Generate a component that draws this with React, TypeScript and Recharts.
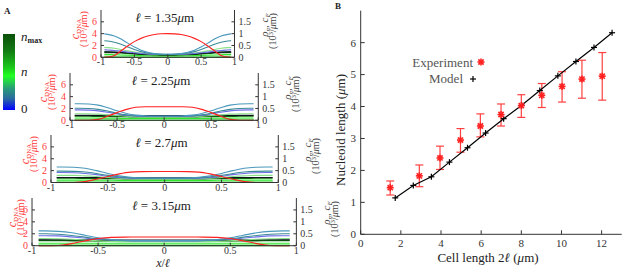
import React from "react";
import {
  LineChart,
  Line,
  ComposedChart,
  Scatter,
  ErrorBar,
  XAxis,
  YAxis,
} from "recharts";

const FONT = "'Liberation Serif', 'DejaVu Serif', serif";
const AXIS = "#333";

// ---- panel A: profiles vs x/ℓ, given from the centre (0) out to the edge, mirrored ----
const X_HALF = [0, 0.1, 0.2, 0.3, 0.4, 0.5, 0.6, 0.7, 0.8, 0.9, 0.95];
const A_X_TICKS = [-1, -0.5, 0, 0.5, 1];
const A_LEFT_TICKS = [0, 2, 4, 6];
const A_RIGHT_TICKS = [0, 0.5, 1, 1.5];

// ℓ = 1.35 µm
const DNA_135 = [4.0, 3.97, 3.85, 3.6, 3.2, 2.65, 1.9, 1.1, 0.3, 0.03, 0];
const TEAL_135 = [0.13, 0.14, 0.16, 0.21, 0.3, 0.44, 0.6, 0.77, 0.9, 0.97, 0.99];
const CYAN_135 = [0.13, 0.13, 0.15, 0.18, 0.24, 0.33, 0.44, 0.55, 0.64, 0.69, 0.7];
const LIGHT_135 = [0.12, 0.12, 0.13, 0.15, 0.18, 0.22, 0.27, 0.33, 0.38, 0.41, 0.42];
const BLUE_135 = [0.12, 0.12, 0.13, 0.14, 0.16, 0.19, 0.22, 0.26, 0.29, 0.31, 0.32];
const BLACK_135 = [0.11, 0.11, 0.12, 0.13, 0.14, 0.16, 0.18, 0.2, 0.22, 0.23, 0.23];
const DKGREEN_135 = [0.1, 0.1, 0.11, 0.12, 0.13, 0.15, 0.17, 0.19, 0.2, 0.21, 0.21];
const GREEN_135 = [0.06, 0.06, 0.06, 0.065, 0.07, 0.08, 0.09, 0.1, 0.11, 0.12, 0.12];
const PALE_135 = [0.03, 0.03, 0.03, 0.03, 0.035, 0.04, 0.045, 0.05, 0.055, 0.06, 0.06];
const BASE_135 = [0.01, 0.01, 0.01, 0.01, 0.01, 0.01, 0.01, 0.01, 0.01, 0.01, 0.01];

// ℓ = 2.25 µm
const DNA_225 = [2.3, 2.3, 2.28, 2.2, 1.85, 1.3, 0.7, 0.15, 0.01, 0, 0];
const TEAL_225 = [0.18, 0.18, 0.19, 0.22, 0.29, 0.4, 0.53, 0.64, 0.69, 0.7, 0.7];
const CYAN_225 = [0.17, 0.17, 0.17, 0.19, 0.23, 0.3, 0.39, 0.46, 0.5, 0.51, 0.51];
const LIGHT_225 = [0.14, 0.14, 0.14, 0.15, 0.17, 0.2, 0.23, 0.26, 0.27, 0.28, 0.28];
const BLUE_225 = [0.16, 0.16, 0.16, 0.18, 0.21, 0.27, 0.34, 0.4, 0.43, 0.44, 0.44];
const BLACK_225 = [0.2, 0.2, 0.2, 0.2, 0.2, 0.2, 0.21, 0.21, 0.21, 0.21, 0.21];
const DKGREEN_225 = [0.15, 0.15, 0.15, 0.15, 0.16, 0.16, 0.17, 0.17, 0.18, 0.18, 0.18];
const GREEN_225 = [0.08, 0.08, 0.08, 0.08, 0.08, 0.085, 0.09, 0.09, 0.1, 0.1, 0.1];
const PALE_225 = [0.04, 0.04, 0.04, 0.04, 0.04, 0.045, 0.05, 0.05, 0.05, 0.05, 0.05];
const BASE_225 = [0.01, 0.01, 0.01, 0.01, 0.01, 0.01, 0.01, 0.01, 0.01, 0.01, 0.01];

// ℓ = 2.7 µm
const DNA_27 = [1.85, 1.85, 1.83, 1.75, 1.45, 1.0, 0.55, 0.15, 0.01, 0, 0];
const TEAL_27 = [0.19, 0.19, 0.2, 0.22, 0.28, 0.38, 0.5, 0.6, 0.64, 0.65, 0.65];
const CYAN_27 = [0.18, 0.18, 0.18, 0.2, 0.24, 0.3, 0.38, 0.44, 0.47, 0.48, 0.48];
const LIGHT_27 = [0.15, 0.15, 0.15, 0.16, 0.18, 0.21, 0.25, 0.28, 0.3, 0.3, 0.3];
const BLUE_27 = [0.17, 0.17, 0.17, 0.18, 0.21, 0.26, 0.33, 0.38, 0.41, 0.42, 0.42];
const BLACK_27 = [0.2, 0.2, 0.2, 0.2, 0.2, 0.2, 0.21, 0.21, 0.21, 0.21, 0.21];
const DKGREEN_27 = [0.16, 0.16, 0.16, 0.16, 0.17, 0.17, 0.18, 0.18, 0.19, 0.19, 0.19];
const GREEN_27 = [0.09, 0.09, 0.09, 0.09, 0.09, 0.095, 0.1, 0.1, 0.1, 0.1, 0.1];
const PALE_27 = [0.05, 0.05, 0.05, 0.05, 0.05, 0.05, 0.05, 0.05, 0.05, 0.05, 0.05];
const BASE_27 = [0.01, 0.01, 0.01, 0.01, 0.01, 0.01, 0.01, 0.01, 0.01, 0.01, 0.01];

// ℓ = 3.15 µm
const DNA_315 = [1.45, 1.45, 1.45, 1.44, 1.4, 1.2, 0.8, 0.35, 0.03, 0, 0];
const TEAL_315 = [0.22, 0.22, 0.22, 0.23, 0.26, 0.33, 0.44, 0.54, 0.6, 0.62, 0.62];
const CYAN_315 = [0.21, 0.21, 0.21, 0.22, 0.24, 0.29, 0.36, 0.43, 0.48, 0.5, 0.5];
const LIGHT_315 = [0.17, 0.17, 0.17, 0.17, 0.18, 0.2, 0.24, 0.27, 0.29, 0.3, 0.3];
const BLUE_315 = [0.2, 0.2, 0.2, 0.21, 0.23, 0.27, 0.32, 0.37, 0.41, 0.42, 0.42];
const BLACK_315 = [0.24, 0.24, 0.24, 0.24, 0.24, 0.24, 0.25, 0.25, 0.25, 0.25, 0.25];
const DKGREEN_315 = [0.19, 0.19, 0.19, 0.19, 0.2, 0.2, 0.21, 0.21, 0.22, 0.22, 0.22];
const GREEN_315 = [0.1, 0.1, 0.1, 0.1, 0.1, 0.1, 0.1, 0.1, 0.1, 0.1, 0.1];
const PALE_315 = [0.05, 0.05, 0.05, 0.05, 0.05, 0.05, 0.05, 0.05, 0.05, 0.05, 0.05];
const BASE_315 = [0.01, 0.01, 0.01, 0.01, 0.01, 0.01, 0.01, 0.01, 0.01, 0.01, 0.01];

// rho series drawn from bottom to top; colour follows the n colour bar
const RHO_KEYS = ["base", "pale", "green", "dkgreen", "black", "light", "blue", "cyan", "teal"];
const RHO_COLORS: Record<string, string> = {
  base: "#0a9a0a",
  pale: "#9af09a",
  green: "#2ee82e",
  dkgreen: "#0d640d",
  black: "#111122",
  light: "#88e088",
  blue: "#6e6ee8",
  cyan: "#3a8a96",
  teal: "#4a98bc",
};

const PANELS = [
  { ell: "1.35", L: 101, R: 234.5, T: 10, B: 57.3, lab: 26, dna: DNA_135,
    rho: [BASE_135, PALE_135, GREEN_135, DKGREEN_135, BLACK_135, LIGHT_135, BLUE_135, CYAN_135, TEAL_135] },
  { ell: "2.25", L: 70, R: 258.3, T: 73, B: 120.3, lab: 27, dna: DNA_225,
    rho: [BASE_225, PALE_225, GREEN_225, DKGREEN_225, BLACK_225, LIGHT_225, BLUE_225, CYAN_225, TEAL_225] },
  { ell: "2.7", L: 51, R: 278.3, T: 135, B: 182.5, lab: 26, dna: DNA_27,
    rho: [BASE_27, PALE_27, GREEN_27, DKGREEN_27, BLACK_27, LIGHT_27, BLUE_27, CYAN_27, TEAL_27] },
  { ell: "3.15", L: 32.3, R: 296.7, T: 198.3, B: 246, lab: 20, dna: DNA_315,
    rho: [BASE_315, PALE_315, GREEN_315, DKGREEN_315, BLACK_315, LIGHT_315, BLUE_315, CYAN_315, TEAL_315] },
];

// ---- panel B ----
const EXP_X = [1.47, 2.92, 3.95, 4.97, 5.96, 6.99, 8.0, 9.02, 10.03, 11.02, 12.03];
const EXP_Y = [1.46, 1.83, 2.39, 2.95, 3.39, 3.75, 4.03, 4.35, 4.63, 4.86, 4.95];
const EXP_LO = [1.23, 1.49, 2.03, 2.57, 3.05, 3.39, 3.66, 3.97, 4.14, 4.26, 4.2];
const EXP_HI = [1.67, 2.17, 2.76, 3.31, 3.77, 4.08, 4.37, 4.72, 5.09, 5.45, 5.69];

const MODEL_X = [1.72, 2.62, 3.52, 4.42, 5.32, 6.22, 7.12, 8.02, 8.92, 9.82, 10.72, 11.62, 12.52];
const MODEL_Y = [1.14, 1.53, 1.8, 2.26, 2.71, 3.17, 3.62, 4.04, 4.5, 4.96, 5.41, 5.85, 6.31];

const B_X_TICKS = [0, 2, 4, 6, 8, 10, 12];
const B_Y_TICKS = [0, 1, 2, 3, 4, 5, 6];

function buildRows(dna: number[], rho: number[][]) {
  const rows: Record<string, number>[] = [];
  const make = (i: number, sign: number) => {
    const r: Record<string, number> = { x: sign * X_HALF[i], dna: dna[i] };
    RHO_KEYS.forEach((k, j) => (r[k] = rho[j][i]));
    return r;
  };
  for (let i = X_HALF.length - 1; i > 0; i--) rows.push(make(i, -1));
  for (let i = 0; i < X_HALF.length; i++) rows.push(make(i, 1));
  return rows;
}

const SUB: React.CSSProperties = { fontSize: 7, verticalAlign: "-0.3em", lineHeight: 0 };
const SUP: React.CSSProperties = { fontSize: 7, verticalAlign: "0.5em", lineHeight: 0 };

function VText({ x, y, color, size = 10, children }: any) {
  return (
    <div
      style={{
        position: "absolute",
        left: x,
        top: y,
        transform: "translate(-50%, -50%) rotate(-90deg)",
        whiteSpace: "nowrap",
        color,
        fontSize: size,
        fontFamily: FONT,
        lineHeight: 1,
      }}
    >
      {children}
    </div>
  );
}

function Txt({ x, y, size = 13, color = "#222", anchor = "middle", children }: any) {
  const tx = anchor === "middle" ? "-50%" : anchor === "end" ? "-100%" : "0";
  return (
    <div
      style={{
        position: "absolute",
        left: x,
        top: y,
        transform: `translate(${tx}, -50%)`,
        whiteSpace: "nowrap",
        color,
        fontSize: size,
        fontFamily: FONT,
        lineHeight: 1,
      }}
    >
      {children}
    </div>
  );
}

function Profile({ p }: any) {
  const rows = buildRows(p.dna, p.rho);
  const W = p.R - p.L + 60;
  const H = p.B - p.T + 2 + 18;
  const cy = (p.T + p.B) / 2;
  return (
    <>
      <div style={{ position: "absolute", left: p.L - 30, top: p.T - 2 }}>
        <LineChart
          width={W}
          height={H}
          data={rows}
          margin={{ top: 2, right: 0, bottom: 0, left: 0 }}
          style={{ fontFamily: FONT }}
        >
          <XAxis
            dataKey="x"
            type="number"
            domain={[-1, 1]}
            ticks={A_X_TICKS}
            interval={0}
            height={18}
            stroke={AXIS}
            tickSize={-3}
            tickMargin={4}
            tick={{ fill: "#333", fontSize: 10, fontFamily: FONT }}
          />
          <XAxis
            xAxisId="t"
            orientation="top"
            type="number"
            domain={[-1, 1]}
            ticks={A_X_TICKS}
            interval={0}
            height={0}
            stroke={AXIS}
            tick={false}
            tickSize={-3}
          />
          <YAxis
            yAxisId="l"
            domain={[0, 8]}
            ticks={A_LEFT_TICKS}
            interval={0}
            width={30}
            stroke={AXIS}
            tickSize={-3}
            tickMargin={7}
            tick={{ fill: "#ff3a3a", fontSize: 10, fontFamily: FONT }}
          />
          <YAxis
            yAxisId="r"
            orientation="right"
            domain={[0, 2]}
            ticks={A_RIGHT_TICKS}
            interval={0}
            width={30}
            stroke={AXIS}
            tickSize={-3}
            tickMargin={7}
            tick={{ fill: "#333", fontSize: 10, fontFamily: FONT }}
          />
          {RHO_KEYS.map((k) => (
            <Line
              key={k}
              yAxisId="r"
              dataKey={k}
              type="monotone"
              stroke={RHO_COLORS[k]}
              strokeWidth={k === "base" || k === "dkgreen" ? 1.6 : 1.1}
              dot={false}
              isAnimationActive={false}
            />
          ))}
          <Line
            yAxisId="l"
            dataKey="dna"
            type="monotone"
            stroke="#ff2020"
            strokeWidth={1.1}
            dot={false}
            isAnimationActive={false}
          />
        </LineChart>
      </div>
      <Txt x={(p.L + p.R) / 2 - 3} y={p.T + 7} size={13}>
        <i>ℓ</i> = {p.ell}<i>μ</i>m
      </Txt>
      <VText x={p.L - p.lab} y={cy - 5} color="#ff3a3a" size={12}>
        <i>c</i>
        <span style={SUB}>DNA</span>
      </VText>
      <VText x={p.L - p.lab + 9} y={cy - 5} color="#ff3a3a" size={10}>
        (10<span style={SUP}>3</span>/<i>μ</i>m)
      </VText>
      <VText x={p.R + 29} y={cy - 9} color="#444" size={11}>
        <i>ρ</i>
        <span style={SUB}>
          <i>n</i>
        </span>
        , <i>c</i>
        <span style={SUB}>
          <i>F</i>
        </span>
      </VText>
      <VText x={p.R + 38} y={cy - 3} color="#444" size={10}>
        (10<span style={SUP}>3</span>/<i>μ</i>m)
      </VText>
    </>
  );
}

const Star = (props: any) => {
  const { cx, cy } = props;
  const s = 3.5;
  const d = 2.6;
  return (
    <g stroke="#ff2020" strokeWidth={1.6}>
      <line x1={cx - s} y1={cy} x2={cx + s} y2={cy} />
      <line x1={cx} y1={cy - s} x2={cx} y2={cy + s} />
      <line x1={cx - d} y1={cy - d} x2={cx + d} y2={cy + d} />
      <line x1={cx - d} y1={cy + d} x2={cx + d} y2={cy - d} />
    </g>
  );
};

const Plus = (props: any) => {
  const { cx, cy } = props;
  const s = 3;
  return (
    <g stroke="#000" strokeWidth={1.2}>
      <line x1={cx - s} y1={cy} x2={cx + s} y2={cy} />
      <line x1={cx} y1={cy - s} x2={cx} y2={cy + s} />
    </g>
  );
};

export default function App() {
  const expData = EXP_X.map((x, i) => ({
    x,
    y: EXP_Y[i],
    err: [EXP_Y[i] - EXP_LO[i], EXP_HI[i] - EXP_Y[i]],
  }));
  const modelData = MODEL_X.map((x, i) => ({ x, y: MODEL_Y[i] }));

  return (
    <div
      style={{
        position: "absolute",
        left: 0,
        top: 0,
        width: 623,
        height: 269,
        overflow: "hidden",
        background: "#fff",
        fontFamily: FONT,
      }}
    >
      <Txt x={4} y={11} size={9} anchor="start">
        <b>A</b>
      </Txt>
      <div
        style={{
          position: "absolute",
          left: 3,
          top: 34,
          width: 12,
          height: 76,
          background:
            "linear-gradient(to bottom, #0b4f0b 0%, #127a12 22%, #1ccc1c 45%, #22ff22 55%, #2a9a7a 72%, #2a6aa0 85%, #0000ff 100%)",
        }}
      />
      <Txt x={21} y={36} size={13} anchor="start">
        <i>n</i>
        <span style={{ ...SUB, fontSize: 8, fontWeight: "bold" }}>max</span>
      </Txt>
      <Txt x={21} y={71} size={13} anchor="start">
        <i>n</i>
      </Txt>
      <Txt x={21} y={108} size={13} anchor="start">
        0
      </Txt>

      {PANELS.map((p) => (
        <Profile key={p.ell} p={p} />
      ))}
      <Txt x={163} y={263} size={12}>
        <i>x</i>/<i>ℓ</i>
      </Txt>

      <Txt x={335} y={6} size={9} anchor="start">
        <b>B</b>
      </Txt>
      <div style={{ position: "absolute", left: 300, top: 0 }}>
        <ComposedChart
          width={323}
          height={269}
          margin={{ top: 10.7, right: 1.3, bottom: 0, left: 0 }}
          style={{ fontFamily: FONT }}
        >
          <XAxis
            dataKey="x"
            type="number"
            domain={[0, 13]}
            ticks={B_X_TICKS}
            interval={0}
            height={34.7}
            stroke={AXIS}
            tickSize={-4}
            tickMargin={9}
            tick={{ fill: "#333", fontSize: 11, fontFamily: FONT }}
          />
          <XAxis
            xAxisId="t"
            orientation="top"
            type="number"
            domain={[0, 13]}
            ticks={B_X_TICKS}
            interval={0}
            height={0}
            stroke={AXIS}
            tick={false}
            tickSize={-4}
          />
          <YAxis
            dataKey="y"
            type="number"
            domain={[0, 7]}
            ticks={B_Y_TICKS}
            interval={0}
            width={60.7}
            stroke={AXIS}
            tickSize={-4}
            tickMargin={8.7}
            tick={{ fill: "#333", fontSize: 11, fontFamily: FONT }}
          />
          <YAxis
            yAxisId="r"
            orientation="right"
            type="number"
            domain={[0, 7]}
            ticks={B_Y_TICKS}
            interval={0}
            width={0}
            stroke={AXIS}
            tick={false}
            tickSize={-4}
          />
          <Scatter
            data={modelData}
            dataKey="y"
            shape={<Plus />}
            line={{ stroke: "#000", strokeWidth: 1.2 }}
            isAnimationActive={false}
          />
          <Scatter data={expData} dataKey="y" shape={<Star />} isAnimationActive={false}>
            <ErrorBar dataKey="err" direction="y" width={4} stroke="#ff4040" strokeWidth={1.2} />
          </Scatter>
        </ComposedChart>
      </div>

      <Txt x={473} y={62} size={13} color="#555" anchor="end">
        Experiment
      </Txt>
      <svg style={{ position: "absolute", left: 475, top: 56 }} width={12} height={12}>
        <Star cx={6} cy={6} />
      </svg>
      <Txt x={463} y={78} size={13} color="#555" anchor="end">
        Model
      </Txt>
      <svg style={{ position: "absolute", left: 467, top: 73 }} width={12} height={12}>
        <Plus cx={6} cy={6} />
      </svg>

      <VText x={340} y={130} color="#222" size={13}>
        Nucleoid length (<i>μ</i>m)
      </VText>
      <Txt x={488} y={257} size={13}>
        Cell length 2<i>ℓ</i> (<i>μ</i>m)
      </Txt>
    </div>
  );
}
